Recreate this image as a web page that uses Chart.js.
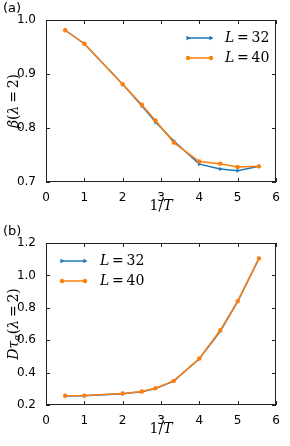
<!DOCTYPE html>
<html>
<head>
<meta charset="utf-8">
<script src="https://cdn.jsdelivr.net/npm/chart.js@4.4.1/dist/chart.umd.min.js"></script>
<style>
  html, body { margin: 0; padding: 0; background: #fff; }
  .panel { width: 290px; height: 223px; }
  canvas { display: block; }
</style>
</head>
<body>
<div class="panel"><canvas id="betaChart" width="290" height="223"></canvas></div>
<div class="panel"><canvas id="tauChart" width="290" height="223"></canvas></div>
<script>
const BLUE = '#1f77b4';
const ORANGE = '#ff7f0e';
const SERIF = '"DejaVu Serif", serif';
const SANS = '"DejaVu Sans", sans-serif';

// data
const invT = [0.5, 1, 2, 2.5, 2.857, 3.333, 4, 4.545, 5, 5.556];
const betaL32 = [0.981, 0.956, 0.881, 0.841, 0.811, 0.776, 0.733, 0.724, 0.721, 0.729];
const betaL40 = [0.981, 0.956, 0.881, 0.843, 0.814, 0.773, 0.738, 0.734, 0.728, 0.729];
const tauL32 = [0.256, 0.257, 0.270, 0.282, 0.302, 0.347, 0.485, 0.655, 0.838, 1.105];
const tauL40 = [0.257, 0.258, 0.271, 0.283, 0.303, 0.349, 0.487, 0.661, 0.841, 1.105];
const xTicks = [0, 1, 2, 3, 4, 5, 6];
const betaTicks = [0.7, 0.8, 0.9, 1.0];
const tauTicks = [0.2, 0.4, 0.6, 0.8, 1.0, 1.2];

function pts(ys) {
  return invT.map((x, i) => ({ x, y: ys[i] }));
}

// draw text made of upright / italic pieces, centred at (cx, cy)
function drawMixed(ctx, parts, cx, cy, size, measureOnly) {
  const fontOf = p => (p.it ? 'italic ' : '') + (p.sub ? size * 0.7 : size) + 'px ' + SERIF;
  let w = 0;
  parts.forEach(p => { ctx.font = fontOf(p); w += ctx.measureText(p.t).width; });
  if (measureOnly) return w;
  let x = cx - w / 2;
  ctx.textBaseline = 'middle';
  ctx.textAlign = 'left';
  parts.forEach(p => {
    ctx.font = fontOf(p);
    ctx.fillText(p.t, x, cy + (p.sub ? size * 0.22 : 0));
    x += ctx.measureText(p.t).width;
  });
  return w;
}

function drawMarker(ctx, style, x, y, color) {
  ctx.fillStyle = color;
  ctx.beginPath();
  if (style === 'triangle') {
    ctx.moveTo(x + 2.6, y);
    ctx.lineTo(x - 1.6, y - 2.2);
    ctx.lineTo(x - 1.6, y + 2.2);
    ctx.closePath();
  } else {
    ctx.arc(x, y, 2.2, 0, Math.PI * 2);
  }
  ctx.fill();
}

const decor = {
  id: 'decor',
  afterDraw(chart, args, opts) {
    const { ctx, chartArea: a, scales: { x, y } } = chart;
    ctx.save();
    ctx.strokeStyle = '#222';
    ctx.lineWidth = 1;
    ctx.strokeRect(a.left + 0.5, a.top + 0.5, a.right - a.left - 1, a.bottom - a.top - 1);
    ctx.beginPath();
    x.ticks.forEach(t => {
      const px = Math.round(x.getPixelForValue(t.value)) + 0.5;
      ctx.moveTo(px, a.bottom); ctx.lineTo(px, a.bottom - 4);
      ctx.moveTo(px, a.top); ctx.lineTo(px, a.top + 4);
    });
    y.ticks.forEach(t => {
      const py = Math.round(y.getPixelForValue(t.value)) + 0.5;
      ctx.moveTo(a.left, py); ctx.lineTo(a.left + 4, py);
      ctx.moveTo(a.right, py); ctx.lineTo(a.right - 4, py);
    });
    ctx.stroke();

    // panel label
    ctx.fillStyle = '#000';
    ctx.font = '13px ' + SANS;
    ctx.textAlign = 'left';
    ctx.textBaseline = 'top';
    ctx.fillText(opts.panel, 3, 2);

    // axis titles
    drawMixed(ctx, [{ t: '1/' }, { t: 'T', it: true }], (a.left + a.right) / 2, 206, 14);
    ctx.save();
    ctx.translate(14, (a.top + a.bottom) / 2);
    ctx.rotate(-Math.PI / 2);
    drawMixed(ctx, opts.yTitle, 0, 0, 14);
    ctx.restore();

    // legend
    const lg = opts.legend;
    [0, 1].forEach((i, row) => {
      const ds = chart.data.datasets[i];
      const yy = lg.y + row * 20;
      ctx.strokeStyle = ds.borderColor;
      ctx.lineWidth = 1.5;
      ctx.beginPath();
      ctx.moveTo(lg.x, yy); ctx.lineTo(lg.x + 23, yy);
      ctx.stroke();
      drawMarker(ctx, ds.pointStyle, lg.x, yy, ds.borderColor);
      drawMarker(ctx, ds.pointStyle, lg.x + 23, yy, ds.borderColor);
      ctx.fillStyle = '#000';
      const parts = [{ t: 'L', it: true }, { t: '\u2009=\u2009' + ds.label }];
      const w = drawMixed(ctx, parts, 0, 0, 14, true);
      drawMixed(ctx, parts, lg.tx + w / 2, yy, 14);
    });
    ctx.restore();
  }
};

function makeChart(id, l32, l40, yMin, yMax, yTickVals, opts) {
  new Chart(document.getElementById(id), {
    type: 'line',
    data: {
      datasets: [
        {
          label: '32', data: pts(l32), borderColor: BLUE, backgroundColor: BLUE,
          pointStyle: 'triangle', rotation: 90, pointRadius: 2.4, pointBorderWidth: 0,
          borderWidth: 1.5, order: 1,
        },
        {
          label: '40', data: pts(l40), borderColor: ORANGE, backgroundColor: ORANGE,
          pointStyle: 'circle', pointRadius: 2.2, pointBorderWidth: 0,
          borderWidth: 1.5, order: 0,
        },
      ]
    },
    options: {
      responsive: false,
      animation: false,
      devicePixelRatio: 1,
      layout: { padding: { top: 20, right: 14, left: 0, bottom: 0 } },
      plugins: { legend: { display: false }, tooltip: { enabled: false }, decor: opts },
      scales: {
        x: {
          type: 'linear', min: 0, max: 6,
          grid: { display: false }, border: { display: false },
          afterBuildTicks: s => { s.ticks = xTicks.map(v => ({ value: v })); },
          ticks: { color: '#000', font: { family: SANS, size: 12 }, padding: 1, maxRotation: 0,
            callback: v => String(v) },
          afterFit: s => { s.height = 41; },
        },
        y: {
          min: yMin, max: yMax,
          grid: { display: false }, border: { display: false },
          afterBuildTicks: s => { s.ticks = yTickVals.map(v => ({ value: v })); },
          ticks: { color: '#000', font: { family: SANS, size: 12 }, padding: 2,
            callback: v => v.toFixed(1) },
          afterFit: s => { s.width = 46; },
        }
      }
    },
    plugins: [decor]
  });
}

makeChart('betaChart', betaL32, betaL40, 0.7, 1.0, betaTicks, {
  panel: '(a)',
  yTitle: [{ t: 'β', it: true }, { t: '(' }, { t: 'λ', it: true }, { t: '\u2009=\u20092)' }],
  legend: { x: 188, y: 38, tx: 225 },
});
makeChart('tauChart', tauL32, tauL40, 0.2, 1.2, tauTicks, {
  panel: '(b)',
  yTitle: [{ t: 'Dτ', it: true }, { t: 'α', it: true, sub: true }, { t: '(' }, { t: 'λ', it: true }, { t: '\u2009=\u20092)' }],
  legend: { x: 62, y: 38, tx: 100 },
});
</script>
</body>
</html>
